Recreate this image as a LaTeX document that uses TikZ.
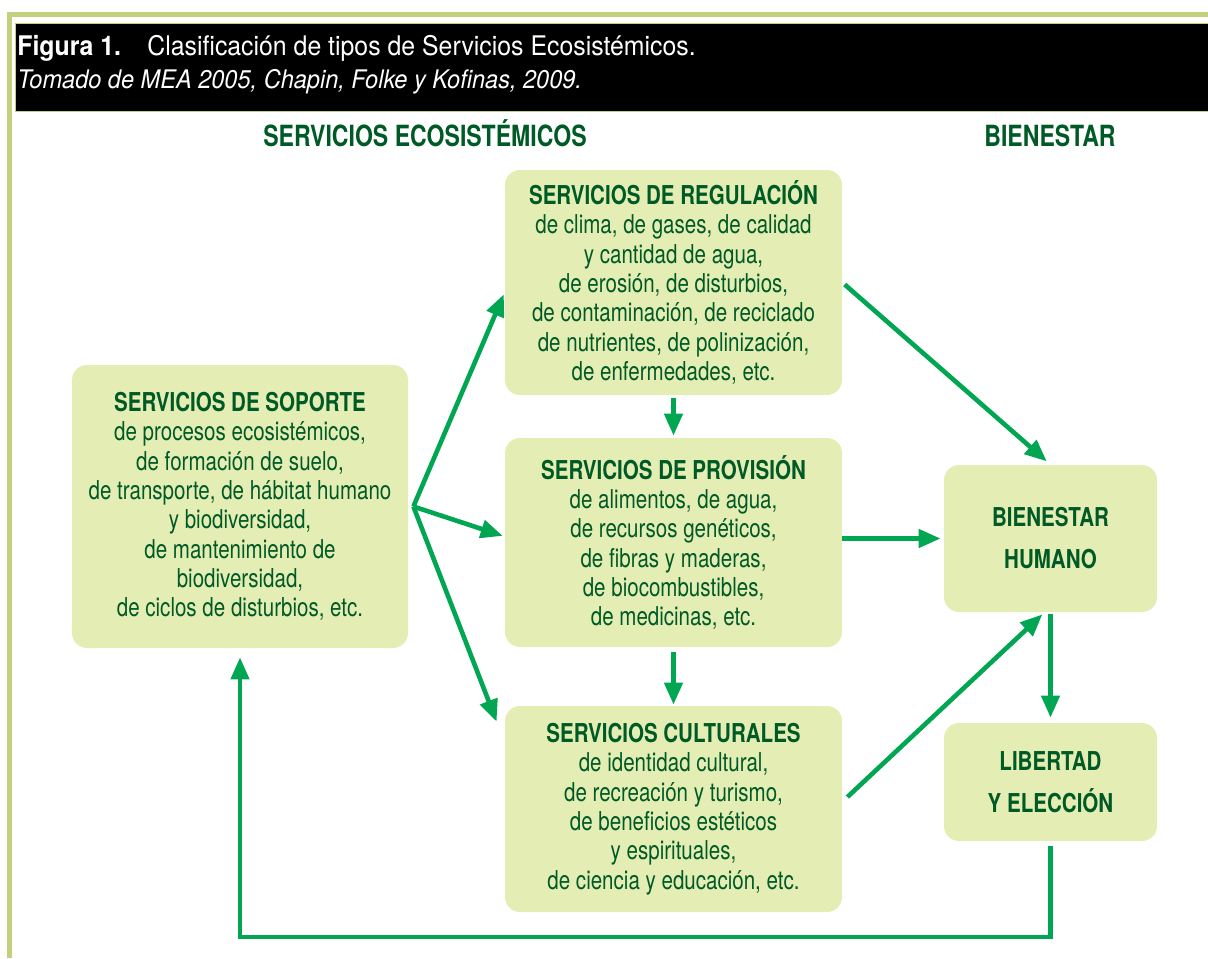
\documentclass[tikz,border=0pt]{standalone}
\usepackage{fontspec}
\setmainfont{TeX Gyre Heros}[FakeStretch=0.79]
\newfontfamily\cabecera{TeX Gyre Heros}[FakeStretch=0.92]
\usetikzlibrary{arrows.meta}

\definecolor{verdeosc}{RGB}{0,90,38}
\definecolor{verdeflecha}{RGB}{0,166,81}
\definecolor{fondocaja}{RGB}{228,237,180}
\definecolor{marco}{RGB}{195,209,127}

\begin{document}
\begin{tikzpicture}[line cap=butt,line join=miter,>={Triangle[length=11pt,width=9pt]},x=0.5pt,y=-0.5pt,
		caja/.style={fill=fondocaja,rounded corners=7.5pt,text=verdeosc,align=center,inner sep=0pt,font=\fontsize{13}{14.65}\selectfont},
		cajados/.style={caja,font=\bfseries\fontsize{13}{21}\selectfont},
		titulo/.style={anchor=base,inner sep=0pt,text=verdeosc,font=\bfseries\fontsize{14.6}{17}\selectfont},
		flecha/.style={->,draw=verdeflecha,line width=2.3pt}]
			\useasboundingbox (0,0) rectangle (1208,958);
			% marco y cabecera
			\draw [marco,line width=2.5pt] (9.5,958) -- (9.5,14.5) -- (1208,14.5);
			\draw [fill=black,draw=marco,line width=0.4pt] (15,23) rectangle (1210,111);
			\node[anchor=base west,inner sep=0pt,text=white,font=\cabecera\bfseries\fontsize{13.5}{15}\selectfont] (figura) at (17,55) {Figura 1.};
			\node[anchor=base west,inner sep=0pt,text=white,font=\cabecera\fontsize{13.5}{15}\selectfont] (leyenda) at (147,55) {Clasificación de tipos de Servicios Ecosistémicos.};
			\node[anchor=base west,inner sep=0pt,text=white,font=\cabecera\itshape\fontsize{12.8}{15}\selectfont] (fuente) at (17,88) {Tomado de MEA 2005, Chapin, Folke y Kofinas, 2009.};
			% encabezados
			\node[titulo] (servicios) at (425,146) {SERVICIOS ECOSISTÉMICOS};
			\node[titulo] (bienestartit) at (1050,146) {BIENESTAR};
			% cajas
			\node[caja,minimum width=168pt,minimum height=141.5pt] (soporte) at (240,506.5) {\textbf{SERVICIOS DE SOPORTE}\\de procesos ecosistémicos,\\de formación de suelo,\\de transporte, de hábitat humano\\y biodiversidad,\\de mantenimiento de\\biodiversidad,\\de ciclos de disturbios, etc.};
			\node[caja,minimum width=168.5pt,minimum height=112.5pt] (regulacion) at (673.5,282.5) {\textbf{SERVICIOS DE REGULACIÓN}\\de clima, de gases, de calidad\\y cantidad de agua,\\de erosión, de disturbios,\\de contaminación, de reciclado\\de nutrientes, de polinización,\\de enfermedades, etc.};
			\node[caja,minimum width=168.5pt,minimum height=104.5pt] (provision) at (673.5,542.5) {\textbf{SERVICIOS DE PROVISIÓN}\\de alimentos, de agua,\\de recursos genéticos,\\de fibras y maderas,\\de biocombustibles,\\de medicinas, etc.};
			\node[caja,minimum width=168.5pt,minimum height=103pt] (culturales) at (673.5,809) {\textbf{SERVICIOS CULTURALES}\\de identidad cultural,\\de recreación y turismo,\\de beneficios estéticos\\y espirituales,\\de ciencia y educación, etc.};
			\node[cajados,minimum width=106.5pt,minimum height=73.5pt] (bienestar) at (1050.5,538.5) {BIENESTAR\\HUMANO};
			\node[cajados,minimum width=106.5pt,minimum height=59pt] (libertad) at (1050.5,782) {LIBERTAD\\Y ELECCIÓN};
			% flechas
			\coordinate (abanico) at ([xshift=2.5pt]soporte.east);
			\coordinate (retorno) at (240,937);
			\draw [flecha,shorten >=1pt] (abanico) -- ([yshift=-5pt]regulacion.west);
			\draw [flecha,shorten >=1pt] (abanico) -- ([yshift=3pt]provision.west);
			\draw [flecha] (abanico) -- ([xshift=-4pt,yshift=-8pt]culturales.north west);
			\draw [flecha,shorten <=1.5pt,shorten >=1pt] (regulacion.south) -- (provision.north);
			\draw [flecha,shorten <=2.5pt,shorten >=0.5pt] (provision.south) -- (culturales.north);
			\draw [flecha,shorten <=1.5pt,shorten >=2.5pt] (regulacion.east) -- (bienestar.north);
			\draw [flecha,shorten >=1.5pt] (provision.east |- bienestar.west) -- (bienestar.west);
			\draw [flecha,shorten >=1.5pt] ([xshift=2.5pt,yshift=6pt]culturales.east) -- ([xshift=-3pt]bienestar.south);
			\draw [flecha,shorten <=1pt,shorten >=2.5pt] (bienestar.south) -- (libertad.north);
			\draw [flecha,shorten <=2.5pt,shorten >=4.5pt] (libertad.south) |- (retorno) -- (soporte.south);
		\end{tikzpicture}
\end{document}
